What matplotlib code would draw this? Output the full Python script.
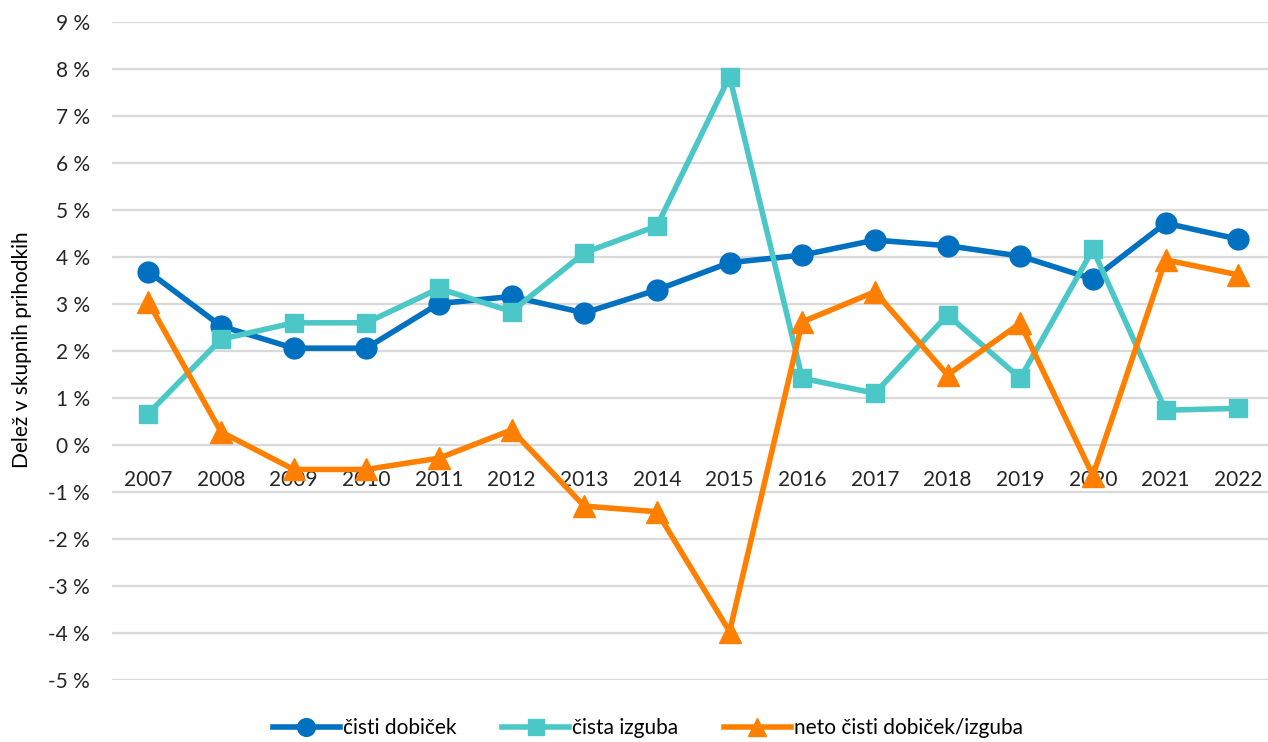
import matplotlib.pyplot as plt
from matplotlib.ticker import FuncFormatter

plt.rcParams['font.family'] = ['Lato', 'DejaVu Sans']

years = ['2007', '2008', '2009', '2010', '2011', '2012', '2013', '2014',
         '2015', '2016', '2017', '2018', '2019', '2020', '2021', '2022']

cisti_dobicek = [3.69, 2.53, 2.06, 2.06, 3.01, 3.16, 2.81, 3.30,
                 3.88, 4.04, 4.36, 4.24, 4.02, 3.53, 4.72, 4.38]
cista_izguba = [0.67, 2.25, 2.60, 2.60, 3.33, 2.84, 4.09, 4.66,
                7.84, 1.42, 1.10, 2.77, 1.42, 4.16, 0.74, 0.78]
neto = [3.04, 0.28, -0.52, -0.52, -0.28, 0.32, -1.30, -1.42,
        -3.97, 2.62, 3.26, 1.49, 2.59, -0.65, 3.94, 3.62]

W, H = 1268, 742
fig = plt.figure(figsize=(W / 100, H / 100), dpi=100)
ax = fig.add_axes([112 / W, 1 - 680 / H, (W - 112) / W, (680 - 22) / H])

x = list(range(len(years)))
lw = 4
ax.plot(x, cisti_dobicek, color='#0070C0', lw=lw, marker='o', ms=15,
        label='čisti dobiček', zorder=3)
ax.plot(x, cista_izguba, color='#4BC7C8', lw=lw, marker='s', ms=13.5,
        label='čista izguba', zorder=4)
ax.plot(x, neto, color='#FF8000', lw=lw, marker='^', ms=16,
        label='neto čisti dobiček/izguba', zorder=5)

ax.set_ylim(-5, 9)
ax.set_yticks(range(-5, 10))
ax.yaxis.set_major_formatter(FuncFormatter(lambda v, p: f'{int(v)} %'))
ax.set_xlim(-0.5, 15.41)
ax.set_xticks(x)
ax.set_xticklabels(years)

ax.grid(axis='y', color='#D9D9D9', lw=1.6)
ax.set_axisbelow(True)
for s in ax.spines.values():
    s.set_visible(False)
ax.spines['bottom'].set_position(('data', 0))
ax.tick_params(axis='both', length=0, labelsize=15, colors='#262626')
ax.tick_params(axis='y', pad=16)
ax.tick_params(axis='x', pad=18)
for t in ax.get_xticklabels():
    t.set_zorder(2)

fig.text(22 / W, 1 - 350 / H, 'Delež v skupnih prihodkih', rotation=90,
         ha='center', va='center', color='#000000',
         family=['Liberation Sans Narrow', 'Lato', 'DejaVu Sans'], size=15)

fig.legend(loc='center', bbox_to_anchor=(648 / W, 1 - 728 / H), ncol=3,
           frameon=False, handlelength=3.2, handletextpad=0.15,
           columnspacing=2.2, markerscale=0.85,
           prop={'family': ['Liberation Sans Narrow', 'Lato'], 'size': 15})

fig.savefig('out.png', dpi=100)
